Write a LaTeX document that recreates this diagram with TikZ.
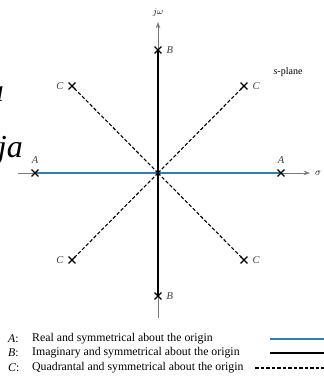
\documentclass[tikz,border=0pt]{standalone}
\usepackage{fontspec}
\setmainfont{Liberation Serif}
\usetikzlibrary{arrows.meta,positioning,shapes.misc,backgrounds}
\definecolor{axisgray}{HTML}{7A7A7A}
\definecolor{realblue}{HTML}{2F7FB3}
\tikzset{
  >={Stealth[length=2.2mm,width=1.6mm]},
  pole/.style={cross out,draw=black,line width=1.3pt,minimum size=5.5pt,inner sep=0pt},
  axisline/.style={line width=.6pt,color=axisgray},
  realpair/.style={line width=2.6pt,color=realblue},
  imagpair/.style={line width=2.6pt,color=black},
  quadpair/.style={line width=1.1pt,dash pattern=on 3.5pt off 2pt},
  tag/.style={font=\itshape\fontsize{10.5}{12}\selectfont,inner sep=1pt,text=black!75},
  legend/.style={font=\fontsize{11.8}{13}\selectfont,anchor=west,inner sep=0pt},
  ghost/.style={font=\itshape\fontsize{32}{32}\selectfont,inner sep=0pt,anchor=base east},
}

\begin{document}
\begin{tikzpicture}[x=1pt,y=1pt]
  \useasboundingbox (-158,-205) rectangle (166,173);
  \coordinate (o) at (0,0);

  % poles
  \node[pole] (a1) at (-123,0) {};
  \node[pole] (a2) at (123,0) {};
  \node[pole] (b1) at (0,123) {};
  \node[pole] (b2) at (0,-123) {};
  \node[pole] (c1) at (-86,87) {};
  \node[pole] (c2) at (86,87) {};
  \node[pole] (c3) at (-86,-87) {};
  \node[pole] (c4) at (86,-87) {};

  \node[tag,above=5pt of a1] (la1) {A};
  \node[tag,above=5pt of a2] (la2) {A};
  \node[tag,right=4pt of b1] (lb1) {B};
  \node[tag,right=4pt of b2] (lb2) {B};
  \node[tag,left=4pt of c1] (lc1) {C};
  \node[tag,right=4pt of c2] (lc2) {C};
  \node[tag,left=4pt of c3] (lc3) {C};
  \node[tag,right=4pt of c4] (lc4) {C};

  % axes
  \coordinate (xl) at (-140,0);
  \coordinate (xr) at (152,0);
  \coordinate (yt) at (0,151);
  \coordinate (yb) at (0,-145);
  \node[anchor=west,inner sep=1pt] (sig) at (156,0) {$\sigma$};
  \node[font=\small,inner sep=1pt] (jw) at (0,161) {$j\omega$};
  \node[font=\fontsize{10}{11}\selectfont] (plane) at (130,101) {\textit{s}-plane};

  \begin{scope}[on background layer]
    \draw[axisline,->] (xl) -- (xr);
    \draw[axisline,->] (yb) -- (yt);
    \draw[realpair] (a1.center) -- (a2.center);
    \draw[imagpair] (b1.center) -- (b2.center);
    \foreach \c in {c1,c2,c3,c4}
      \draw[quadpair] (o) -- (\c.center);
  \end{scope}

  % stray glyphs at the left edge
  \node[ghost] (g1) at (-154,72) {a};
  \node[ghost] (g2) at (-135,16) {ja};

  % legend
  \node[legend] (ka) at (-150,-166) {\textit{A}:};
  \node[legend] (kb) at (-150,-180) {\textit{B}:};
  \node[legend] (kc) at (-150,-195) {\textit{C}:};
  \node[legend] (ta) at (-126,-166) {Real and symmetrical about the origin};
  \node[legend] (tb) at (-126,-180) {Imaginary and symmetrical about the origin};
  \node[legend] (tc) at (-126,-195) {Quadrantal and symmetrical about the origin};
  \coordinate (sa) at (112,-166);
  \coordinate (ea) at (166,-166);
  \coordinate (sb) at (112,-180);
  \coordinate (eb) at (166,-180);
  \coordinate (sc) at (97,-195);
  \coordinate (ec) at (166,-195);
  \draw[realpair,line width=2pt] (sa) -- (ea);
  \draw[imagpair,line width=2pt] (sb) -- (eb);
  \draw[quadpair] (sc) -- (ec);
\end{tikzpicture}
\end{document}
